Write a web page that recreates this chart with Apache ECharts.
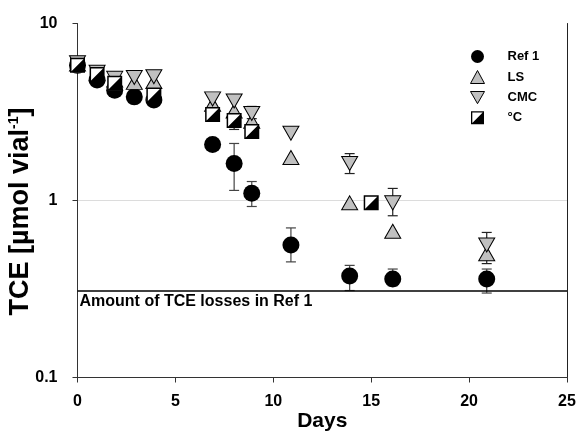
<!DOCTYPE html>
<html>
<head>
<meta charset="utf-8">
<script src="https://cdn.jsdelivr.net/npm/echarts@6/dist/echarts.min.js"></script>
<style>html,body{margin:0;padding:0;background:#fff;}#c{width:580px;height:440px;}</style>
</head>
<body>
<div id="c"></div>
<script>
// ---- data ----
const ref1Days = [0, 1, 1.9, 2.9, 3.9, 6.9, 8, 8.9, 10.9, 13.9, 16.1, 20.9];
const ref1Vals = [5.8, 4.8, 4.2, 3.85, 3.7, 2.07, 1.62, 1.1, 0.56, 0.375, 0.36, 0.36];
const ref1ErrDays = [8, 8.9, 10.9, 13.9, 16.1, 20.9];
const ref1ErrLow = [1.14, 0.925, 0.45, 0.31, 0.33, 0.30];
const ref1ErrHigh = [2.1, 1.28, 0.70, 0.43, 0.41, 0.41];

const lsDays = [0, 1, 1.9, 2.9, 3.9, 6.9, 8, 8.9, 10.9, 13.9, 16.1, 20.9];
const lsVals = [5.9, 5.2, 4.8, 4.65, 4.7, 3.5, 3.2, 2.8, 1.75, 0.97, 0.67, 0.50];

const cmcDays = [0, 1, 1.9, 2.9, 3.9, 6.9, 8, 8.9, 10.9, 13.9, 16.1, 20.9];
const cmcVals = [6.0, 5.3, 4.9, 4.95, 5.0, 3.75, 3.65, 3.1, 2.4, 1.62, 0.97, 0.56];
const cmcErrDays = [8.9, 13.9, 16.1, 20.9];
const cmcErrLow = [2.9, 1.42, 0.82, 0.44];
const cmcErrHigh = [3.4, 1.84, 1.17, 0.66];

const degDays = [0, 1, 1.9, 3.9, 6.9, 8, 8.9, 15];
const degVals = [5.8, 5.15, 4.6, 3.95, 3.06, 2.83, 2.45, 0.97];
const degErrDays = [8];
const degErrLow = [2.52];
const degErrHigh = [2.83];

const lossLevel = 0.314;
const lossLabel = 'Amount of TCE losses in Ref 1';
const xMin = 0, xMax = 25;
const yMin = 0.1, yMax = 10;
const xTicks = [0, 5, 10, 15, 20, 25];
const yTicks = [0.1, 1, 10];

// ---- helpers ----
const zip = (a, b) => a.map((v, i) => [v, b[i]]);
const errData = (d, lo, hi) => d.map((v, i) => [v, lo[i], hi[i]]);
function errSeries(data, color) {
  return {
    type: 'custom',
    silent: true,
    data: data,
    z: 1,
    renderItem: function (params, api) {
      const x = api.value(0);
      const p1 = api.coord([x, api.value(1)]);
      const p2 = api.coord([x, api.value(2)]);
      const w = 5;
      const st = {stroke: color, lineWidth: 1.2};
      return {
        type: 'group',
        children: [
          {type: 'line', shape: {x1: p1[0], y1: p1[1], x2: p2[0], y2: p2[1]}, style: st},
          {type: 'line', shape: {x1: p1[0] - w, y1: p1[1], x2: p1[0] + w, y2: p1[1]}, style: st},
          {type: 'line', shape: {x1: p2[0] - w, y1: p2[1], x2: p2[0] + w, y2: p2[1]}, style: st}
        ]
      };
    }
  };
}

const downTri = 'path://M0,0 L10,0 L5,8.7 Z';
const halfSq = 'path://M0,0 L10,0 L10,10 L0,10 Z M1,1 L1,9 L9,9 L9,1 Z M9,1 L9,9 L1,9 Z';
const grayFill = '#c0c0c0';
const FONT = 'Liberation Sans, Arial, sans-serif';

const chart = echarts.init(document.getElementById('c'), null, {renderer: 'canvas'});
chart.setOption({
  animation: false,
  backgroundColor: '#fff',
  textStyle: {fontFamily: FONT},
  grid: {left: 77.5, right: 13, top: 23.5, bottom: 62.5, show: false,
    containLabel: false, outerBoundsMode: 'none'},
  legend: {
    orient: 'vertical',
    left: 465, top: 45,
    itemWidth: 14, itemHeight: 13,
    itemGap: 7,
    itemStyle: {borderWidth: 1},
    textStyle: {fontWeight: 'bold', fontSize: 13, color: '#000', padding: [0, 0, 0, 18]},
    data: [
      {name: 'Ref 1', icon: 'circle'},
      {name: 'LS', icon: 'triangle'},
      {name: 'CMC', icon: downTri},
      {name: '°C', icon: halfSq, itemStyle: {borderWidth: 0}}
    ]
  },
  xAxis: {
    type: 'value', min: xMin, max: xMax, interval: 5,
    name: 'Days', nameLocation: 'middle', nameGap: 33, nameMoveOverlap: false,
    nameTextStyle: {fontWeight: 'bold', fontSize: 21, color: '#000'},
    axisLine: {show: true, onZero: false, lineStyle: {color: '#333', width: 1}},
    axisTick: {show: true, inside: false, length: 5, lineStyle: {color: '#333'}},
    axisLabel: {fontWeight: 'bold', fontSize: 16, color: '#000', margin: 16,
      formatter: v => xTicks.includes(v) ? String(v) : ''},
    splitLine: {show: false}
  },
  yAxis: [{
    type: 'log', logBase: 10, min: yMin, max: yMax,
    name: 'TCE [µmol vial{sup|-1}]', nameLocation: 'middle', nameGap: 43, nameRotate: 90,
    nameMoveOverlap: false,
    nameTextStyle: {fontWeight: 'bold', fontSize: 27, color: '#000', padding: [0, 22, 0, 0],
      rich: {sup: {fontWeight: 'bold', fontSize: 14, color: '#000', verticalAlign: 'top', padding: [0, 0, 10, 0]}}},
    axisLine: {show: true, onZero: false, lineStyle: {color: '#333', width: 1}},
    axisTick: {show: true, inside: false, length: 5, lineStyle: {color: '#333'}},
    axisLabel: {fontWeight: 'bold', fontSize: 16, color: '#000', margin: 20,
      formatter: v => yTicks.some(t => Math.abs(t - v) < 1e-9) ? String(v) : ''},
    splitLine: {show: true, showMinLine: false, showMaxLine: false, lineStyle: {color: '#dcdcdc', width: 1}},
    minorTick: {show: false}
  }, {
    type: 'log', logBase: 10, min: yMin, max: yMax, position: 'right', offset: 0,
    axisLine: {show: true, onZero: false, lineStyle: {color: '#222', width: 1}},
    axisTick: {show: false}, axisLabel: {show: false}, splitLine: {show: false}
  }],
  series: [
    errSeries(errData(ref1ErrDays, ref1ErrLow, ref1ErrHigh), '#444'),
    errSeries(errData(cmcErrDays, cmcErrLow, cmcErrHigh), '#222'),
    errSeries(errData(degErrDays, degErrLow, degErrHigh), '#222'),
    {
      name: 'Ref 1', type: 'scatter', symbol: 'circle', symbolSize: 17, z: 2,
      data: zip(ref1Days, ref1Vals),
      itemStyle: {color: '#000', opacity: 1},
      markLine: {
        silent: true, symbol: 'none',
        lineStyle: {color: '#000', width: 1.5, type: 'solid'},
        label: {show: true, position: 'insideStartBottom', formatter: lossLabel,
          fontWeight: 'bold', fontSize: 16, color: '#000', distance: [2, 3]},
        data: [{yAxis: lossLevel}]
      }
    },
    {
      name: 'LS', type: 'scatter', symbol: 'triangle', symbolSize: [16, 14], z: 3,
      data: zip(lsDays, lsVals),
      itemStyle: {color: grayFill, borderColor: '#000', borderWidth: 1, opacity: 1}
    },
    {
      name: 'CMC', type: 'scatter', symbol: downTri, symbolSize: [16, 14], z: 3,
      data: zip(cmcDays, cmcVals),
      itemStyle: {color: grayFill, borderColor: '#000', borderWidth: 1, opacity: 1}
    },
    {
      name: '°C bg', type: 'scatter', symbol: 'rect', symbolSize: 14, z: 4,
      data: zip(degDays, degVals),
      itemStyle: {color: '#fff', opacity: 1}
    },
    {
      name: '°C', type: 'scatter', symbol: halfSq, symbolSize: 15, z: 5,
      data: zip(degDays, degVals),
      itemStyle: {color: '#000', opacity: 1}
    }
  ]
});
</script>
</body>
</html>
